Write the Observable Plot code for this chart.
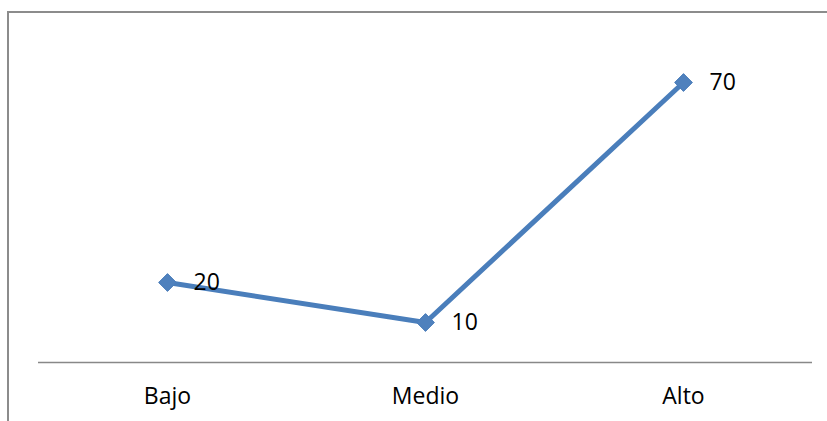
<!DOCTYPE html>
<html><head><meta charset="utf-8">
<script src="https://cdn.jsdelivr.net/npm/d3@7"></script>
<script src="https://cdn.jsdelivr.net/npm/@observablehq/plot@0.6"></script>
<style>body{margin:0;background:#fff;} svg{display:block;}</style>
</head><body><div id="chart"></div>
<script>
const categories = ["Bajo", "Medio", "Alto"];
const values = [20, 10, 70];
const data = categories.map((c, i) => ({cat: c, v: values[i]}));
const font = "'Open Sans', sans-serif";
const chart = Plot.plot({
  width: 827, height: 421,
  marginLeft: 38, marginRight: 15, marginTop: 42, marginBottom: 59,
  style: {fontFamily: font, fontSize: "23px", color: "#000", background: "#fff"},
  x: {type: "band", domain: categories, padding: 0, label: null},
  y: {domain: [0, 80], axis: null},
  marks: [
    Plot.ruleY([0], {stroke: "#888", strokeWidth: 1.6}),
    Plot.axisX({tickSize: 0, tickPadding: 25, fontSize: 23, fill: "#000", label: null}),
    Plot.line(data, {x: "cat", y: "v", stroke: "#4A7EBB", strokeWidth: 5}),
    Plot.dot(data, {x: "cat", y: "v", symbol: "diamond2", r: 8, fill: "#4F81BD", stroke: "#4A7EBB", strokeWidth: 1}),
    Plot.text(data, {x: "cat", y: "v", text: d => String(d.v), dx: 26, textAnchor: "start", fontSize: 23, fill: "#000"})
  ]
});
d3.select(chart).insert("rect", ":first-child")
  .attr("x", 8).attr("y", 12).attr("width", 900).attr("height", 500)
  .attr("fill", "none").attr("stroke", "#8c8c8c").attr("stroke-width", 2);
document.getElementById("chart").appendChild(chart);
</script></body></html>
